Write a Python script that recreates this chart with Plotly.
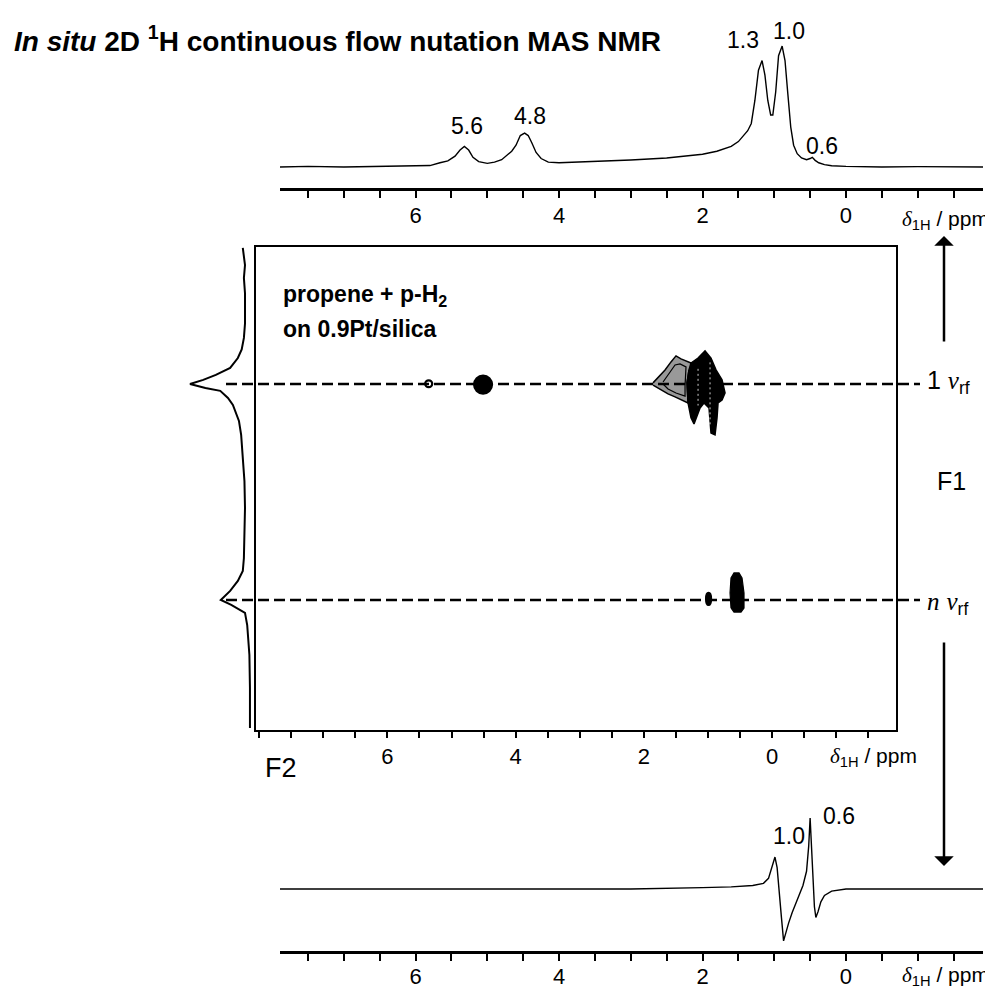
import plotly.graph_objects as go

W, H = 993, 990

# ---------------- data ----------------
# top 1D spectrum (delta 1H / ppm, relative intensity)
top_ppm = [7.89, 7.5, 7.0, 6.5, 6.0, 5.8, 5.66, 5.55, 5.45, 5.38, 5.32, 5.26, 5.2, 5.12, 5.0,
           4.9, 4.8, 4.72, 4.66, 4.6, 4.54, 4.48, 4.43, 4.38, 4.32, 4.25, 4.15, 4.0, 3.5, 3.0,
           2.5, 2.2, 2.0, 1.8, 1.6, 1.5, 1.42, 1.37, 1.32, 1.27, 1.22, 1.17, 1.13, 1.09, 1.05,
           1.02, 0.98, 0.94, 0.89, 0.85, 0.81, 0.77, 0.73, 0.68, 0.62, 0.55, 0.5, 0.47, 0.43, 0.38,
           0.3, 0.2, 0.0, -0.5, -1.0, -1.5, -1.91]
top_int = [0.0, 0.005, 0.0, 0.005, 0.008, 0.012, 0.035, 0.05, 0.09, 0.14, 0.17, 0.14, 0.08, 0.045, 0.03,
           0.04, 0.06, 0.1, 0.13, 0.18, 0.26, 0.28, 0.26, 0.2, 0.12, 0.07, 0.04, 0.035, 0.045, 0.058,
           0.075, 0.09, 0.105, 0.13, 0.17, 0.21, 0.27, 0.30, 0.36, 0.55, 0.8, 0.88, 0.76, 0.55, 0.43,
           0.43, 0.62, 0.92, 1.0, 0.88, 0.6, 0.33, 0.18, 0.11, 0.075, 0.06, 0.07, 0.08, 0.055, 0.035,
           0.02, 0.01, 0.005, 0.0, 0.003, 0.0, 0.0]
top_labels = ["5.6", "4.8", "1.3", "1.0", "0.6"]
top_label_ppm = [5.29, 4.40, 1.44, 0.80, 0.33]
top_label_int = [0.339, 0.421, 1.05, 1.124, 0.174]

# bottom 1D spectrum (n nu_rf slice)
bot_ppm = [7.89, 7.0, 6.0, 5.0, 4.0, 3.0, 2.0, 1.6, 1.3, 1.15, 1.08, 1.03, 0.99, 0.96, 0.93,
           0.9, 0.87, 0.84, 0.8, 0.75, 0.7, 0.65, 0.6, 0.55, 0.52, 0.5, 0.48, 0.46, 0.44, 0.42,
           0.39, 0.35, 0.3, 0.2, 0.1, 0.0, -1.0, -1.91]
bot_int = [0.0, 0.0, 0.0, 0.0, -0.01, 0.0, 0.02, 0.03, 0.05, 0.08, 0.15, 0.3, 0.45, 0.3, 0.0,
           -0.4, -0.73, -0.62, -0.48, -0.33, -0.2, -0.08, 0.05, 0.25, 0.6, 1.0, 0.6, 0.1, -0.25, -0.40,
           -0.32, -0.18, -0.09, -0.03, -0.01, 0.0, 0.0, 0.0]
bot_labels = ["1.0", "0.6"]
bot_label_ppm = [0.80, 0.10]
bot_label_int = [0.746, 1.03]

# F1 projection (F1 position in units of the nutation lines, intensity)
proj_f1 = [0.370, 0.45, 0.509, 0.58, 0.648, 0.72, 0.787, 0.84, 0.880, 0.926, 0.958, 0.981, 1.000,
           1.019, 1.032, 1.065, 1.097, 1.171, 1.236, 1.343, 1.45, 1.574, 1.70, 1.806, 1.866, 1.912,
           1.958, 2.000, 2.023, 2.060, 2.116, 2.255, 2.407, 2.593]
proj_int = [0.04, 0.0, 0.02, 0.0, 0.0, 0.0, 0.02, 0.06, 0.13, 0.27, 0.53, 0.76, 1.0,
            0.72, 0.45, 0.31, 0.22, 0.11, 0.07, 0.04, 0.01, 0.0, 0.01, 0.02, 0.04, 0.13,
            0.27, 0.44, 0.25, 0.0, -0.04, -0.08, -0.09, -0.09]

# 2D contour regions (F2 ppm, F1 position)
core_ppm = [1.264, 1.154, 1.045, 0.952, 0.874, 0.780, 0.733, 0.780, 0.842, 0.858, 0.889, 0.952,
            0.983, 1.061, 1.123, 1.186, 1.217, 1.264, 1.310, 1.326, 1.295]
core_f1 = [0.903, 0.880, 0.847, 0.880, 0.935, 0.981, 1.042, 1.074, 1.088, 1.157, 1.236, 1.227,
           1.111, 1.088, 1.111, 1.157, 1.185, 1.157, 1.088, 0.995, 0.935]
fan_ppm = [1.856, 1.778, 1.669, 1.576, 1.498, 1.420, 1.326, 1.264, 1.295, 1.326, 1.310, 1.404,
           1.513, 1.622, 1.747, 1.856]
fan_f1 = [0.995, 0.972, 0.935, 0.898, 0.870, 0.884, 0.894, 0.903, 0.935, 0.995, 1.088, 1.074,
          1.060, 1.046, 1.023, 1.005]
fan_in_ppm = [1.700, 1.607, 1.513, 1.435, 1.342, 1.357, 1.357, 1.498, 1.622, 1.700]
fan_in_f1 = [0.991, 0.954, 0.912, 0.907, 0.921, 1.009, 1.056, 1.042, 1.023, 1.000]
seam_ppm = [0.967, 0.967, None, 1.154, 1.154]
seam_f1 = [0.90, 1.20, None, 0.93, 1.10]
nblob_ppm = [0.640, 0.655, 0.640, 0.593, 0.515, 0.468, 0.437, 0.437, 0.484, 0.593, 0.640]
nblob_f1 = [2.037, 1.968, 1.898, 1.875, 1.875, 1.898, 1.968, 2.037, 2.056, 2.056, 2.037]
# small elliptical peaks: centre ppm, centre F1, half-widths, filled?
spot_ppm = [5.356, 4.508, 0.990]
spot_f1 = [0.999, 1.003, 1.995]
spot_dppm = [0.055, 0.14, 0.039]
spot_df1 = [0.016, 0.042, 0.028]
spot_fill = [False, True, True]

nutation_lines = [1.0, 2.0]
ppm_ticklabels = [6, 4, 2, 0]

# ---------------- helpers ----------------
def px(x):
    return x / W

def py(y):
    return 1 - y / H

SANS = "Liberation Sans"
BLACK = "#000000"

fig = go.Figure()

fig.add_trace(go.Scatter(x=top_ppm, y=top_int, mode="lines", xaxis="x", yaxis="y",
                         line=dict(color=BLACK, width=1.4), hoverinfo="skip"))
fig.add_trace(go.Scatter(x=bot_ppm, y=bot_int, mode="lines", xaxis="x4", yaxis="y4",
                         line=dict(color=BLACK, width=1.4), hoverinfo="skip"))
fig.add_trace(go.Scatter(x=proj_int, y=proj_f1, mode="lines", xaxis="x2", yaxis="y3",
                         line=dict(color=BLACK, width=2), hoverinfo="skip", cliponaxis=False))
fig.add_trace(go.Scatter(x=fan_ppm, y=fan_f1, mode="lines", fill="toself", xaxis="x3", yaxis="y3",
                         fillcolor="rgba(0,0,0,0.4)", line=dict(color=BLACK, width=1.5),
                         hoverinfo="skip"))
fig.add_trace(go.Scatter(x=fan_in_ppm, y=fan_in_f1, mode="lines", xaxis="x3", yaxis="y3",
                         line=dict(color=BLACK, width=1.2), hoverinfo="skip"))
fig.add_trace(go.Scatter(x=core_ppm, y=core_f1, mode="lines", fill="toself", xaxis="x3", yaxis="y3",
                         fillcolor=BLACK, line=dict(color=BLACK, width=1.5), hoverinfo="skip"))
fig.add_trace(go.Scatter(x=seam_ppm, y=seam_f1, mode="lines", xaxis="x3", yaxis="y3",
                         line=dict(color="rgba(255,255,255,0.8)", width=1, dash="2px,3px"),
                         hoverinfo="skip"))
fig.add_trace(go.Scatter(x=nblob_ppm, y=nblob_f1, mode="lines", fill="toself", xaxis="x3", yaxis="y3",
                         fillcolor=BLACK, line=dict(color=BLACK, width=1.2), hoverinfo="skip"))

shapes = []
for f1 in nutation_lines:
    shapes.append(dict(type="line", xref="paper", yref="y3", x0=px(218), x1=px(912), y0=f1, y1=f1,
                       line=dict(color=BLACK, width=2.5, dash="11px,5px"), layer="below"))
for cx, cy, dx, dy, filled in zip(spot_ppm, spot_f1, spot_dppm, spot_df1, spot_fill):
    shapes.append(dict(type="circle", xref="x3", yref="y3", x0=cx - dx, x1=cx + dx,
                       y0=cy - dy, y1=cy + dy, line=dict(color=BLACK, width=2.2),
                       fillcolor=BLACK if filled else "rgba(0,0,0,0)", layer="above"))

tickfont = dict(family=SANS, size=22, color=BLACK)

def ppm_axis(domain, rng, anchor, lw, tlen, standoff, mirror=False):
    return dict(domain=domain, range=rng, anchor=anchor, showgrid=False, zeroline=False,
                showline=True, mirror=mirror, linewidth=lw, linecolor=BLACK,
                ticks="outside", ticklen=tlen, tickwidth=1.5, tickcolor=BLACK,
                tickmode="array", tickvals=ppm_ticklabels,
                ticktext=[str(v) for v in ppm_ticklabels], tickfont=tickfont,
                ticklabelstandoff=standoff,
                minor=dict(tickmode="linear", dtick=0.5, tick0=0, ticks="outside", ticklen=tlen,
                           tickwidth=1.5, tickcolor=BLACK))

fig.update_layout(
    width=W, height=H, autosize=False,
    margin=dict(l=0, r=0, t=0, b=0),
    paper_bgcolor="white", plot_bgcolor="rgba(0,0,0,0)",
    showlegend=False,
    shapes=shapes,
    xaxis=ppm_axis([px(272), px(975)], [7.89, -1.91], "y", 2.5, 7, -1),
    yaxis=dict(domain=[py(180), py(20)], range=[-0.1736, 1.149], anchor="x", visible=False),
    xaxis4=ppm_axis([px(272), px(975)], [7.89, -1.91], "y4", 2.5, 7, -3),
    yaxis4=dict(domain=[py(943), py(790)], range=[-0.873, 1.282], anchor="x4", visible=False),
    xaxis3=ppm_axis([px(248), px(888)], [8.05, -1.934], "y3", 2, 6, 0, mirror=True),
    yaxis3=dict(domain=[py(722), py(239)], range=[2.602, 0.366], anchor="x3", showgrid=False,
                zeroline=False, showline=True, mirror=True, linewidth=2, linecolor=BLACK,
                showticklabels=False, ticks=""),
    xaxis2=dict(domain=[px(150), px(248)], range=[1.582, -0.2], anchor="y3", visible=False),
)

ann = []
def text_px(x, y, text, size, xanchor="left", yanchor="middle"):
    ann.append(dict(xref="paper", yref="paper", x=px(x), y=py(y), text=text, showarrow=False,
                    xanchor=xanchor, yanchor=yanchor,
                    font=dict(family=SANS, size=size, color=BLACK)))

text_px(4, 31, "<b><i>In situ</i> 2D <sup>1</sup>H continuous flow nutation MAS NMR</b>", 28)
text_px(273, 287, "<b>propene + p-H<sub>2</sub></b>", 23)
text_px(273, 321, "<b>on 0.9Pt/silica</b>", 23)

delta = "<span style=\"font-family:'Liberation Serif'\"><i>δ</i></span><sub>1H</sub> / ppm"
text_px(983, 212, delta, 21, xanchor="right")
text_px(820, 749, delta, 21)
text_px(983, 968, delta, 21, xanchor="right")

text_px(273, 760, "F2", 27, xanchor="center")
text_px(943, 473, "F1", 25, xanchor="center")
nu = "<span style=\"font-family:'Liberation Serif'\"><i>ν</i></span><sub>rf</sub>"
text_px(917, 374, "1 " + nu, 25)
text_px(917, 595, "<span style=\"font-family:'Liberation Serif'\"><i>n</i></span> " + nu, 25)

for t, xv, yv in zip(top_labels, top_label_ppm, top_label_int):
    ann.append(dict(xref="x", yref="y", x=xv, y=yv, text=t, showarrow=False,
                    xanchor="center", yanchor="middle",
                    font=dict(family=SANS, size=23, color=BLACK)))
for t, xv, yv in zip(bot_labels, bot_label_ppm, bot_label_int):
    ann.append(dict(xref="x4", yref="y4", x=xv, y=yv, text=t, showarrow=False,
                    xanchor="center", yanchor="middle",
                    font=dict(family=SANS, size=23, color=BLACK)))

ann.append(dict(xref="paper", yref="paper", x=px(936), y=py(228), ax=0, ay=107,
                axref="pixel", ayref="pixel", text="", showarrow=True, arrowhead=1,
                arrowsize=1.3, arrowwidth=2.5, arrowcolor=BLACK))
ann.append(dict(xref="paper", yref="paper", x=px(936), y=py(858), ax=0, ay=-225,
                axref="pixel", ayref="pixel", text="", showarrow=True, arrowhead=1,
                arrowsize=1.3, arrowwidth=2.5, arrowcolor=BLACK))

fig.update_layout(annotations=ann)
fig.write_html("out.html")
